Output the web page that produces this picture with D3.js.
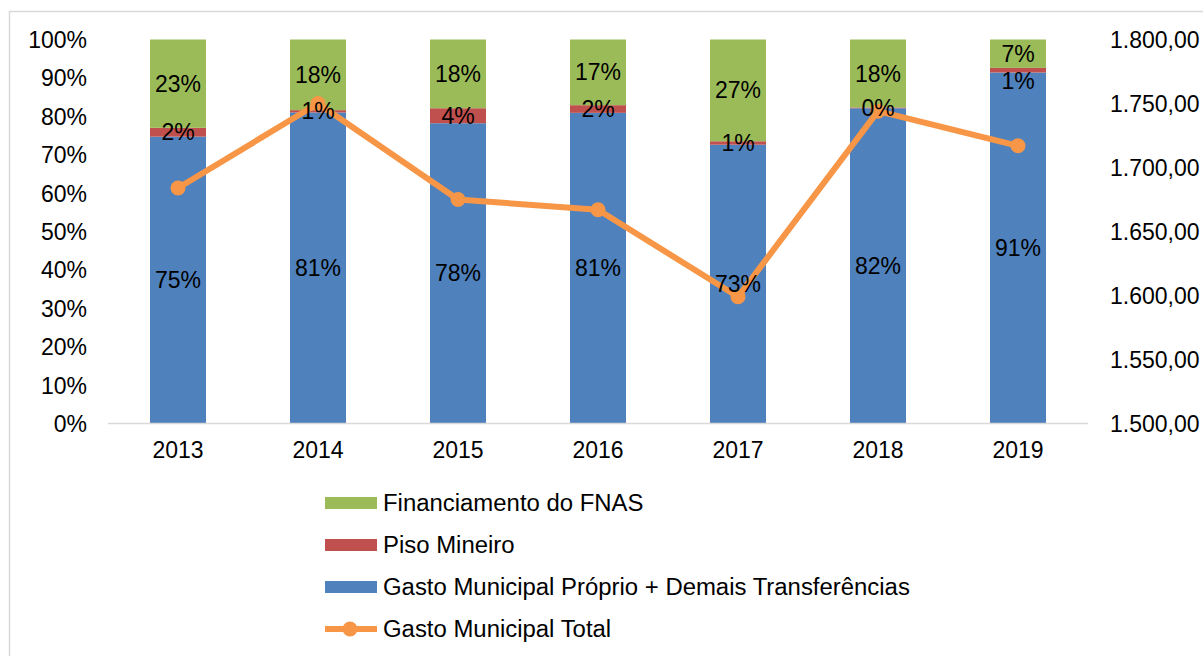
<!DOCTYPE html>
<html>
<head>
<meta charset="utf-8">
<script src="https://cdn.jsdelivr.net/npm/d3@7"></script>
<style>
  html, body { margin: 0; padding: 0; background: #fff; }
  svg { display: block; font-family: "Liberation Sans", Arial, sans-serif; }
</style>
</head>
<body>
<svg id="chart" width="1203" height="656"></svg>
<script>
const years = ["2013", "2014", "2015", "2016", "2017", "2018", "2019"];
const seriesNames = ["Gasto Municipal Próprio + Demais Transferências", "Piso Mineiro", "Financiamento do FNAS"];
const gastoProprio = [74.7, 81.0, 78.2, 80.9, 72.6, 82.1, 91.4];
const pisoMineiro  = [2.3, 0.6, 3.9, 2.0, 0.9, 0.2, 1.2];
const fnas         = [23.0, 18.4, 17.9, 17.1, 26.5, 17.7, 7.4];
const gastoTotal   = [1684, 1750, 1675, 1667, 1599, 1744, 1717];
const leftTicks  = [0, 10, 20, 30, 40, 50, 60, 70, 80, 90, 100];
const rightTicks = [1500, 1550, 1600, 1650, 1700, 1750, 1800];
const lineName = "Gasto Municipal Total";
const colors = ["#4f81bd", "#c0504d", "#9bbb59"];
const lineColor = "#f79646";

const svg = d3.select("#chart");
const FS = 23;

// frame
svg.append("path").attr("d", "M9.5,660 V11.5 H1210").attr("fill", "none").attr("stroke", "#d9d9d9").attr("stroke-width", 1.5);

const x = d3.scaleBand().domain(years).range([108, 1088]).paddingInner(0.6).paddingOuter(0.3);
const y = d3.scaleLinear().domain([0, 100]).range([423.5, 39.5]);
const y2 = d3.scaleLinear().domain([1500, 1800]).range([423.5, 39.5]);

// stack
const rows = years.map((yr, i) => ({ year: yr, s0: gastoProprio[i], s1: pisoMineiro[i], s2: fnas[i] }));
const stack = d3.stack().keys(["s0", "s1", "s2"]);
const stacked = stack(rows);

const g = svg.append("g");
stacked.forEach((layer, li) => {
  g.selectAll(null).data(layer).enter().append("rect")
    .attr("x", d => x(d.data.year))
    .attr("width", x.bandwidth())
    .attr("y", d => y(d[1]))
    .attr("height", d => y(d[0]) - y(d[1]))
    .attr("fill", colors[li]);
});

// axis baseline
svg.append("line").attr("x1", 108).attr("x2", 1088).attr("y1", 423.5).attr("y2", 423.5)
  .attr("stroke", "#d9d9d9").attr("stroke-width", 1.5);

function styleAxisText(sel, dy) {
  sel.selectAll("text").attr("font-size", FS).attr("fill", "#000")
    .attr("font-family", "Liberation Sans, Arial, sans-serif").attr("dy", dy);
}

// left axis
const leftAxis = d3.axisLeft(y).tickValues(leftTicks).tickFormat(d => d + "%").tickSize(0).tickPadding(0);
const la = svg.append("g").attr("transform", "translate(87,0)").call(leftAxis);
la.select(".domain").remove();
styleAxisText(la, "0.35em");

// right axis
const fmt = d3.formatLocale({ decimal: ",", thousands: ".", grouping: [3], currency: ["R$", ""] }).format(",.2f");
const rightAxis = d3.axisRight(y2).tickValues(rightTicks).tickFormat(fmt).tickSize(0).tickPadding(0);
const ra = svg.append("g").attr("transform", "translate(1110,0)").call(rightAxis);
ra.select(".domain").remove();
styleAxisText(ra, "0.35em");

// x axis labels
const xAxis = d3.axisBottom(x).tickSize(0).tickPadding(0);
const xa = svg.append("g").attr("transform", "translate(0,442)").call(xAxis);
xa.select(".domain").remove();
styleAxisText(xa, "0.71em");

// line
const line = d3.line().x((d, i) => x(years[i]) + x.bandwidth() / 2).y(d => y2(d));
svg.append("path").datum(gastoTotal).attr("d", line).attr("fill", "none")
  .attr("stroke", lineColor).attr("stroke-width", 6).attr("stroke-linejoin", "round");
svg.selectAll(null).data(gastoTotal).enter().append("circle")
  .attr("cx", (d, i) => x(years[i]) + x.bandwidth() / 2)
  .attr("cy", d => y2(d)).attr("r", 7.5).attr("fill", lineColor);

// data labels
const labelY = stacked.map(layer => layer.map(d => y((d[0] + d[1]) / 2)));
// push a middle label down when it would collide with the label above it
labelY[1] = labelY[1].map((v, i) => (v - labelY[2][i] < 22 ? labelY[2][i] + 27 : v));
stacked.forEach((layer, li) => {
  svg.selectAll(null).data(layer).enter().append("text")
    .attr("x", d => x(d.data.year) + x.bandwidth() / 2)
    .attr("y", (d, i) => labelY[li][i])
    .attr("dy", "0.35em")
    .attr("text-anchor", "middle")
    .attr("font-size", FS).attr("fill", "#000")
    .text(d => Math.round(d[1] - d[0]) + "%");
});

// legend
const legendItems = [
  { name: seriesNames[2], color: colors[2], type: "rect" },
  { name: seriesNames[1], color: colors[1], type: "rect" },
  { name: seriesNames[0], color: colors[0], type: "rect" },
  { name: lineName, color: lineColor, type: "line" }
];
const lg = svg.append("g");
legendItems.forEach((it, i) => {
  const cy = 503 + i * 42;
  if (it.type === "rect") {
    lg.append("rect").attr("x", 325).attr("y", cy - 6).attr("width", 52).attr("height", 12).attr("fill", it.color);
  } else {
    lg.append("line").attr("x1", 325).attr("x2", 377).attr("y1", cy).attr("y2", cy).attr("stroke", it.color).attr("stroke-width", 6);
    lg.append("circle").attr("cx", 350).attr("cy", cy).attr("r", 7.5).attr("fill", it.color);
  }
  lg.append("g").attr("transform", `translate(383,${cy})`)
    .append("text").attr("dy", "0.35em").attr("transform", "scale(1.04,1)")
    .attr("font-size", FS).attr("fill", "#000").text(it.name);
});
</script>
</body>
</html>
